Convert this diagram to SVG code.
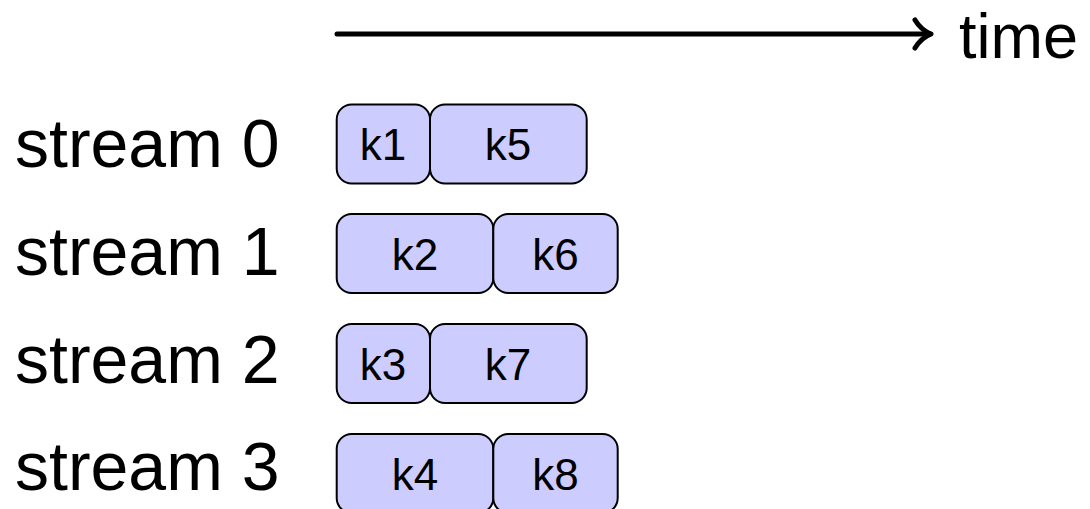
<svg xmlns="http://www.w3.org/2000/svg" width="1090" height="509" viewBox="0 0 1090 509">
<style>
.lbl{font-family:"Liberation Sans",Arial,sans-serif;font-size:68px;fill:#000}
.t{font-family:"Liberation Sans",Arial,sans-serif;font-size:63px;fill:#000}
.k{font-family:"Liberation Sans",Arial,sans-serif;font-size:44px;fill:#000;text-anchor:middle}
.box{fill:#ccccff;stroke:#000;stroke-width:2}
.ax{fill:none;stroke:#000;stroke-width:5;stroke-linecap:round;stroke-linejoin:round}
</style>
<rect width="1090" height="509" fill="#fff"/>
<g id="connectors">
<line class="ax" x1="337" y1="34" x2="930" y2="34"/>
<path class="ax" d="M915 20 Q921 30 931 34 Q921 38 915 48"/>
</g>
<text class="t" x="959" y="58">time</text>
<g id="labels">
<text class="lbl" x="15" y="167">stream 0</text>
<text class="lbl" x="15" y="275">stream 1</text>
<text class="lbl" x="15" y="383">stream 2</text>
<text class="lbl" x="15" y="490">stream 3</text>
</g>
<g id="k1"><rect class="box" x="336.7" y="104.5" width="93.3" height="79" rx="15"/><text class="k" x="383" y="160">k1</text></g>
<g id="k5"><rect class="box" x="430" y="104.5" width="156.7" height="79" rx="15"/><text class="k" x="508" y="160">k5</text></g>
<g id="k2"><rect class="box" x="336.7" y="214" width="156.6" height="79" rx="15"/><text class="k" x="415" y="270">k2</text></g>
<g id="k6"><rect class="box" x="493.3" y="214" width="124.4" height="79" rx="15"/><text class="k" x="555.5" y="270">k6</text></g>
<g id="k3"><rect class="box" x="336.7" y="324" width="93.3" height="79" rx="15"/><text class="k" x="383" y="380">k3</text></g>
<g id="k7"><rect class="box" x="430" y="324" width="156.7" height="79" rx="15"/><text class="k" x="508" y="380">k7</text></g>
<g id="k4"><rect class="box" x="336.7" y="434" width="156.6" height="79" rx="15"/><text class="k" x="415" y="490">k4</text></g>
<g id="k8"><rect class="box" x="493.3" y="434" width="124.4" height="79" rx="15"/><text class="k" x="555.5" y="490">k8</text></g>
</svg>
